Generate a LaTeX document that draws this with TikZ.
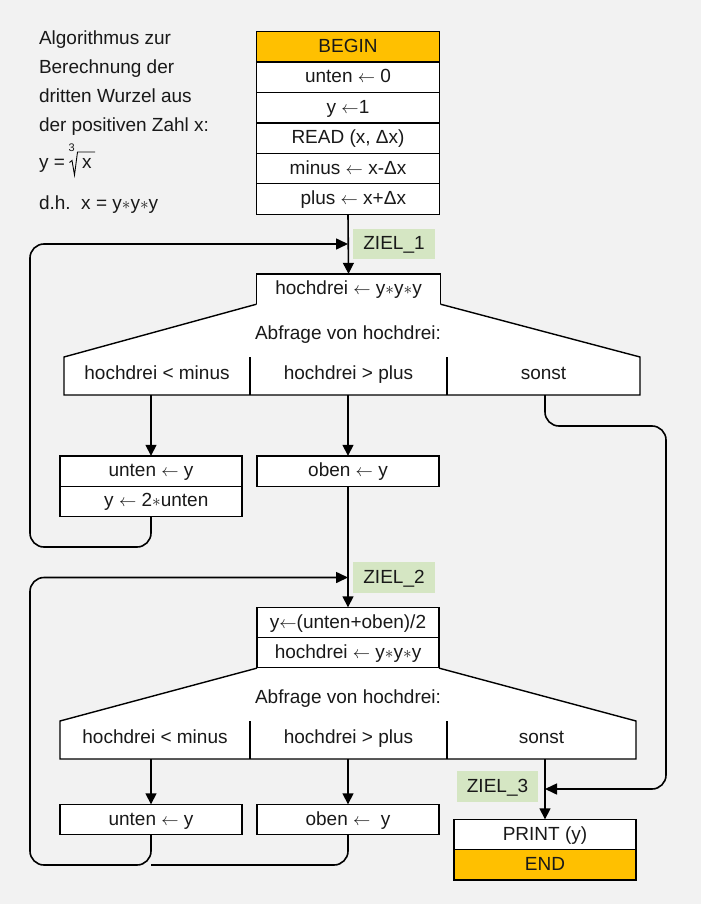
\documentclass[tikz,border=0pt]{standalone}
\usepackage{fontspec}
\setmainfont{Liberation Sans}
\usetikzlibrary{arrows.meta}
\definecolor{bg}{HTML}{F2F2F2}
\definecolor{orng}{HTML}{FFC000}
\definecolor{zgreen}{HTML}{D5E6C3}
\newcommand{\la}{\ensuremath{\leftarrow}}
\newcommand{\st}{\ensuremath{\mathord{\ast}}}
\begin{document}
\begin{tikzpicture}[x=1pt,y=-1pt,
  every node/.style={font=\fontsize{19}{23}\selectfont, inner sep=0pt, outer sep=0pt, text=black!90},
  row/.style={draw, line width=1.4pt, fill=white, minimum width=183pt, minimum height=30.4pt, text height=14.5pt, text depth=3.5pt},
  cell/.style={minimum height=38pt, text height=11pt, text depth=5pt},
  ziel/.style={fill=zgreen, minimum width=82pt, minimum height=30.5pt, text height=14.5pt, text depth=3.5pt},
  txt/.style={anchor=base west},
  arr/.style={line width=1.6pt, -{Triangle[length=11pt,width=11pt]}},
  loop/.style={line width=1.6pt, rounded corners=14pt},
  trap/.style={draw, line width=1.4pt, fill=white, line join=miter}
]
\fill[bg] (0,0) rectangle (701,904);
\useasboundingbox (0,0) rectangle (701,904);

% description text
\node[txt] (t1) at (39,45) {Algorithmus zur};
\node[txt] (t2) at (39,74) {Berechnung der};
\node[txt] (t3) at (39,103) {dritten Wurzel aus};
\node[txt] (t4) at (39,132) {der positiven Zahl x:};
\node[txt] (t5) at (39,169) {y =};
\node[txt, font=\fontsize{11}{13}\selectfont] (t5i) at (68.5,152) {3};
\node[txt] (t5x) at (82,169) {x};
\draw[line width=0.9pt, line join=miter] (69.5,162.5) -- (72,160.5) -- (74.5,175) -- (77.5,152) -- (95,152);
\node[txt] (t6) at (39,209) {d.h.\ \ x = y\st y\st y};

% top stack
\node[row, fill=orng] (begin) at (348,47) {BEGIN};
\node[row, anchor=north] (r1) at (begin.south) {unten \la\ 0};
\node[row, anchor=north] (r2) at (r1.south) {y \la 1};
\node[row, anchor=north] (r3) at (r2.south) {READ (x, Δx)};
\node[row, anchor=north] (r4) at (r3.south) {minus \la\ x-Δx};
\node[row, anchor=north] (r5) at (r4.south) {\ \ plus \la\ x+Δx};

% ZIEL_1
\coordinate (j1) at (348,244);
\node[ziel] (z1) at (394,244) {ZIEL\_1};

% first decision
\node[row, minimum width=184pt] (h1) at (348.5,289) {hochdrei \la\ y\st y\st y};
\draw[trap] (h1.south west) -- (64,357) -- (64,395) -- (640,395) -- (640,357) -- (h1.south east);
\node (q1) at (348,335) {Abfrage von hochdrei:};
\node[cell, minimum width=186pt] (c1) at (157,376) {hochdrei < minus};
\node[cell, minimum width=197pt] (c2) at (348.5,376) {hochdrei > plus};
\node[cell, minimum width=193pt] (c3) at (543.5,376) {sonst};
\draw[line width=1.4pt] (c1.north east) -- (c1.south east);
\draw[line width=1.4pt] (c2.north east) -- (c2.south east);

% first branches
\node[row, minimum width=182pt] (u1) at (151,471) {unten \la\ y};
\node[row, minimum width=182pt, anchor=north] (u1b) at (u1.south) {\ \ y \la\ 2\st unten};
\node[row, minimum width=182pt] (o1) at (348,471) {oben \la\ y};

% ZIEL_2
\coordinate (j2) at (348,577.5);
\node[ziel] (z2) at (394,577.5) {ZIEL\_2};

% second decision
\node[row, minimum width=182pt] (m1) at (348,622.5) {y\la(unten+oben)/2};
\node[row, minimum width=182pt, anchor=north] (m2) at (m1.south) {hochdrei \la\ y\st y\st y};
\draw[trap] (m2.south west) -- (60,721) -- (60,759) -- (636,759) -- (636,721) -- (m2.south east);
\node (q2) at (348,699) {Abfrage von hochdrei:};
\node[cell, minimum width=190pt] (d1) at (155,740) {hochdrei < minus};
\node[cell, minimum width=197pt] (d2) at (348.5,740) {hochdrei > plus};
\node[cell, minimum width=189pt] (d3) at (541.5,740) {sonst};
\draw[line width=1.4pt] (d1.north east) -- (d1.south east);
\draw[line width=1.4pt] (d2.north east) -- (d2.south east);

% second branches
\node[row, minimum width=182pt] (u2) at (151,819.5) {unten \la\ y};
\node[row, minimum width=182pt] (o2) at (348,819.5) {oben \la\ \ y};

% end
\coordinate (j3) at (545,789);
\coordinate (rt) at (666,426);
\node[ziel, minimum width=81pt] (z3) at (497.5,786.5) {ZIEL\_3};
\node[row, minimum width=182pt] (p1) at (545,834.5) {PRINT (y)};
\node[row, minimum width=182pt, fill=orng, anchor=north] (e1) at (p1.south) {END};

% connectors
\draw[arr] (r5.south) -- (h1.north);
\draw[arr] (c1.south -| u1.north) -- (u1.north);
\draw[arr] (c2.south -| o1.north) -- (o1.north);
\draw[loop, -{Triangle[length=12pt,width=11pt]}] (u1b.south) |- (30,547) |- (j1);
\draw[arr] (o1.south) -- (m1.north);
\draw[arr] (d1.south -| u2.north) -- (u2.north);
\draw[arr] (d2.south -| o2.north) -- (o2.north);
\draw[loop] (o2.south) |- (u2.south |- 0,865);
\draw[loop, -{Triangle[length=12pt,width=11pt]}] (u2.south) |- (30,865) |- (j2);
\draw[arr] (d3.south -| p1.north) -- (p1.north);
\draw[loop, -{Triangle[length=12pt,width=11pt]}] (c3.south -| p1.north) |- (rt) |- (j3);
\end{tikzpicture}
\end{document}
